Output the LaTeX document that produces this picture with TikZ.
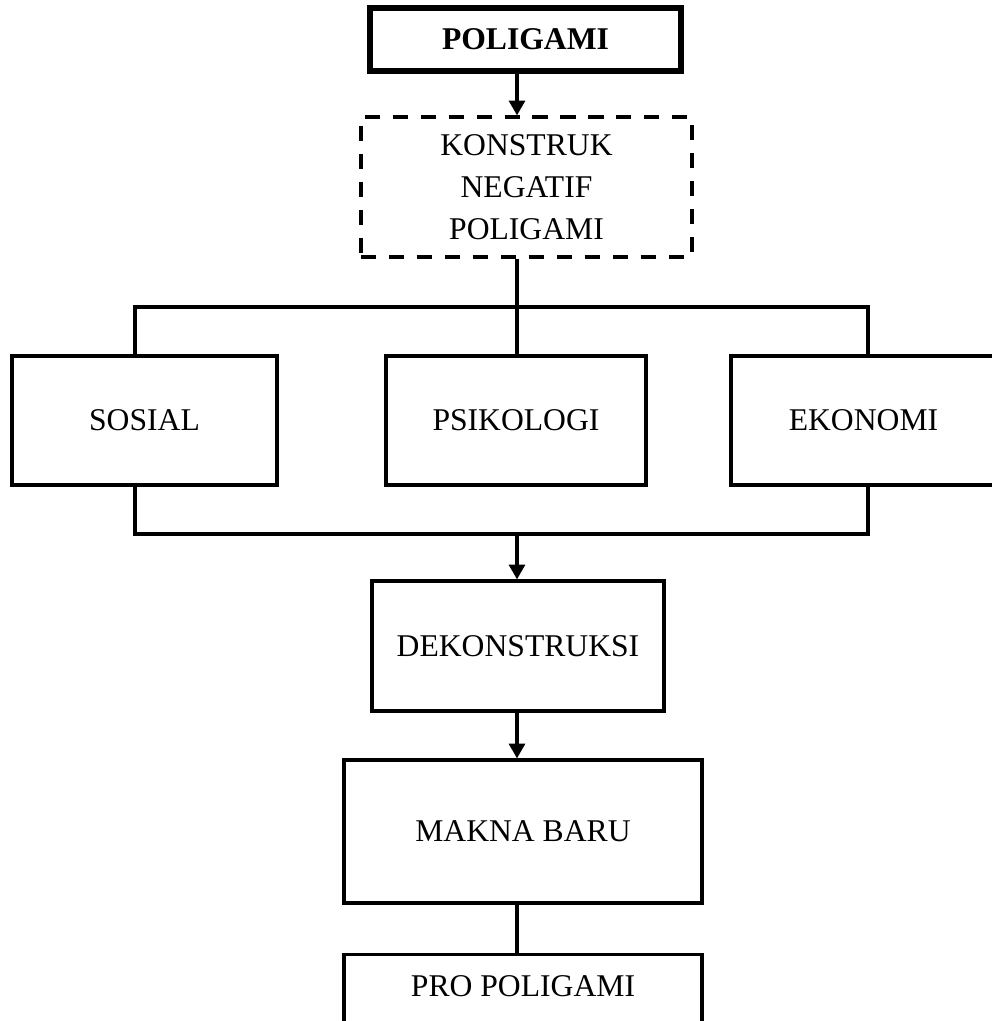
\documentclass[tikz,border=0pt]{standalone}
\usepackage{fontspec}
\setmainfont{Liberation Serif}
\usetikzlibrary{arrows.meta}

\begin{document}
\begin{tikzpicture}[x=0.025cm, y=-0.025cm,
		every node/.style={font=\fontsize{22.5}{30}\selectfont},
		box/.style={draw, line width=2.3pt, inner sep=0pt, minimum height=3.225cm},
		headbox/.style={draw, line width=4.8pt, inner sep=0pt, font=\fontsize{22.5}{30}\selectfont\bfseries},
		dashbox/.style={draw, line width=2.3pt, dash pattern=on 10.7pt off 9.2pt, inner sep=0pt, align=center},
		link/.style={line width=2.3pt},
		arr/.style={line width=2.3pt, -{Triangle[width=0.4cm, length=0.37cm]}}]
		\clip (0,0) rectangle (992,1021);
		\useasboundingbox (0,0) rectangle (992,1021);

		\node[headbox, minimum width=7.775cm, minimum height=1.575cm] (poligami) at (525.5, 39.5) {POLIGAMI};
		\node[dashbox, minimum width=8.275cm, minimum height=3.5cm] (konstruk) at (526.5, 187) {KONSTRUK\\NEGATIF\\POLIGAMI};

		\node[box, minimum width=6.625cm] (sosial) at (144.5, 420.5) {SOSIAL};
		\node[box, minimum width=6.5cm] (psikologi) at (516, 420.5) {PSIKOLOGI};
		\node[box, minimum width=6.625cm] (ekonomi) at (863.5, 420.5) {EKONOMI};

		\node[box, minimum width=7.3cm, minimum height=3.25cm] (dekonstruksi) at (518, 646) {DEKONSTRUKSI};
		\node[box, minimum width=8.95cm, minimum height=3.575cm] (makna) at (523, 831.5) {MAKNA BARU};
		\node[box, anchor=north, minimum width=8.95cm, minimum height=0pt, text height=0.55cm, text depth=2cm, inner ysep=0.5cm] (pro) at (523, 953) {PRO POLIGAMI};

		% spine and bus bars
		\coordinate (spine) at (517, 0);
		\coordinate (tl) at (135, 307);
		\coordinate (tr) at (868, 307);
		\coordinate (bl) at (135, 534);
		\coordinate (br) at (868, 534);

		\draw[arr] (poligami.south -| spine) -- (konstruk.north -| spine);
		\draw[link] (konstruk.south -| spine) -- (spine |- tl) -- (psikologi.north -| spine);
		\draw[link] (sosial.north -| tl) -- (tl) -- (tr) -- (ekonomi.north -| tr);
		\draw[link] (sosial.south -| bl) -- (bl) -- (br) -- (ekonomi.south -| br);
		\draw[arr] (spine |- bl) -- (dekonstruksi.north -| spine);
		\draw[arr] (dekonstruksi.south -| spine) -- (makna.north -| spine);
		\draw[link] (makna.south -| spine) -- (pro.north -| spine);
	\end{tikzpicture}
\end{document}
